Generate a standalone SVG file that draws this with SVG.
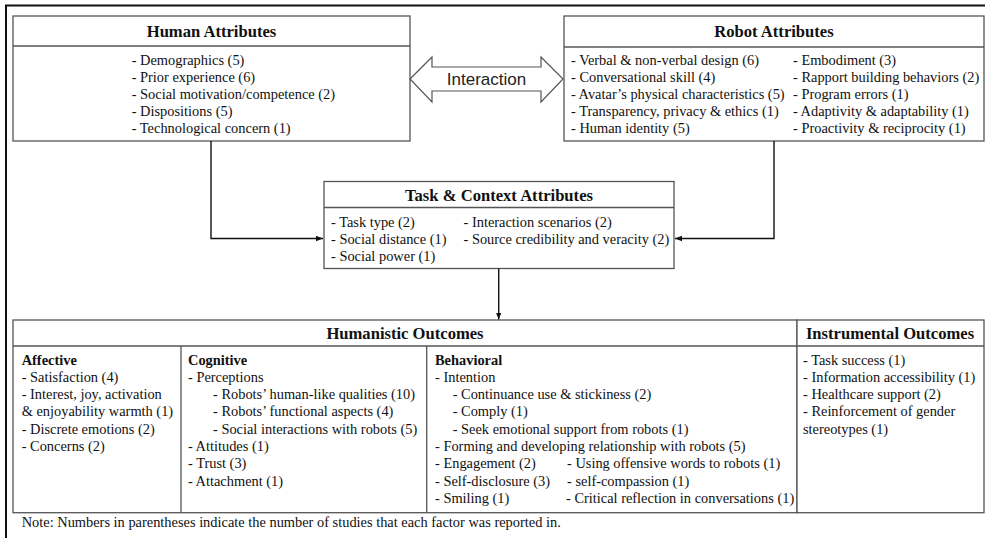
<svg xmlns="http://www.w3.org/2000/svg" width="985" height="538" viewBox="0 0 985 538">
<style>
.box{fill:#fff;stroke:#555;stroke-width:1.3}
.div{stroke:#555;stroke-width:1.3;fill:none}
.t{font-family:"Liberation Serif","Times New Roman",serif;font-size:14.4px;fill:#111}
.h{font-family:"Liberation Serif","Times New Roman",serif;font-size:16.6px;font-weight:bold;fill:#111;text-anchor:middle}
.b{font-weight:bold}
.con{stroke:#111;stroke-width:1.4;fill:none}
</style>
<defs>
<marker id="ah" viewBox="0 0 10 10" refX="10" refY="5" markerWidth="7" markerHeight="7" markerUnits="userSpaceOnUse" orient="auto">
<path d="M0,1 L10,5 L0,9 Z" fill="#111"/>
</marker>
</defs>
<rect width="985" height="538" fill="#fff"/>
<path d="M6,545 V5.5 H995" fill="none" stroke="#111" stroke-width="2"/>

<g id="human">
<rect class="box" x="13" y="16" width="397" height="125"/>
<line class="div" x1="13" y1="46" x2="410" y2="46"/>
<text class="h" x="211.5" y="37">Human Attributes</text>
<text class="t" x="131.7" y="64.5">- Demographics (5)</text>
<text class="t" x="131.7" y="81.5">- Prior experience (6)</text>
<text class="t" x="131.7" y="98.5">- Social motivation/competence (2)</text>
<text class="t" x="131.7" y="115.5">- Dispositions (5)</text>
<text class="t" x="131.7" y="132.5">- Technological concern (1)</text>
</g>

<g id="interaction">
<polygon points="410,79 432,57 432,67 541,67 541,57 563,79 541,102 541,91 432,91 432,102" fill="#fff" stroke="#555" stroke-width="1.2"/>
<text x="486.5" y="85" text-anchor="middle" font-family="'Liberation Sans',Arial,sans-serif" font-size="17" fill="#222">Interaction</text>
</g>

<g id="robot">
<rect class="box" x="564" y="16" width="420" height="125"/>
<line class="div" x1="564" y1="47" x2="984" y2="47"/>
<text class="h" x="774" y="37">Robot Attributes</text>
<text class="t" x="571" y="64.5">- Verbal &amp; non-verbal design (6)</text>
<text class="t" x="571" y="81.5">- Conversational skill (4)</text>
<text class="t" x="571" y="98.5">- Avatar’s physical characteristics (5)</text>
<text class="t" x="571" y="115.5">- Transparency, privacy &amp; ethics (1)</text>
<text class="t" x="571" y="132.5">- Human identity (5)</text>
<text class="t" x="793" y="64.5">- Embodiment (3)</text>
<text class="t" x="793" y="81.5">- Rapport building behaviors (2)</text>
<text class="t" x="793" y="98.5">- Program errors (1)</text>
<text class="t" x="793" y="115.5">- Adaptivity &amp; adaptability (1)</text>
<text class="t" x="793" y="132.5">- Proactivity &amp; reciprocity (1)</text>
</g>

<g id="task">
<rect class="box" x="324" y="181.5" width="350" height="87"/>
<line class="div" x1="324" y1="207.5" x2="674" y2="207.5"/>
<text class="h" x="499" y="201">Task &amp; Context Attributes</text>
<text class="t" x="331" y="227">- Task type (2)</text>
<text class="t" x="331" y="244">- Social distance (1)</text>
<text class="t" x="331" y="261">- Social power (1)</text>
<text class="t" x="463.5" y="227">- Interaction scenarios (2)</text>
<text class="t" x="463.5" y="244">- Source credibility and veracity (2)</text>
</g>

<g id="humanistic">
<rect class="box" x="13" y="320" width="784" height="192.7"/>
<line class="div" x1="13" y1="346" x2="797" y2="346"/>
<line class="div" x1="181" y1="346" x2="181" y2="512.7"/>
<line class="div" x1="426.7" y1="346" x2="426.7" y2="512.7"/>
<text class="h" x="405" y="339">Humanistic Outcomes</text>
<text class="t b" x="21.7" y="364.5">Affective</text>
<text class="t" x="21.7" y="381.8">- Satisfaction (4)</text>
<text class="t" x="21.7" y="399.1">- Interest, joy, activation</text>
<text class="t" x="21.7" y="416.4">&amp; enjoyability warmth (1)</text>
<text class="t" x="21.7" y="433.7">- Discrete emotions (2)</text>
<text class="t" x="21.7" y="451">- Concerns (2)</text>
<text class="t b" x="188" y="364.5">Cognitive</text>
<text class="t" x="188" y="381.8">- Perceptions</text>
<text class="t" x="213" y="399.1">- Robots’ human-like qualities (10)</text>
<text class="t" x="213" y="416.4">- Robots’ functional aspects (4)</text>
<text class="t" x="213" y="433.7">- Social interactions with robots (5)</text>
<text class="t" x="188" y="451">- Attitudes (1)</text>
<text class="t" x="188" y="468.3">- Trust (3)</text>
<text class="t" x="188" y="485.6">- Attachment (1)</text>
<text class="t b" x="435" y="364.5">Behavioral</text>
<text class="t" x="435" y="381.8">- Intention</text>
<text class="t" x="452.7" y="399.1">- Continuance use &amp; stickiness (2)</text>
<text class="t" x="452.7" y="416.4">- Comply (1)</text>
<text class="t" x="452.7" y="433.7">- Seek emotional support from robots (1)</text>
<text class="t" x="435" y="451">- Forming and developing relationship with robots (5)</text>
<text class="t" x="435" y="468.3">- Engagement (2)</text>
<text class="t" x="435" y="485.6">- Self-disclosure (3)</text>
<text class="t" x="435" y="502.9">- Smiling (1)</text>
<text class="t" x="567" y="468.3">- Using offensive words to robots (1)</text>
<text class="t" x="567" y="485.6">- self-compassion (1)</text>
<text class="t" x="566" y="502.9">- Critical reflection in conversations (1)</text>
</g>

<g id="instrumental">
<rect class="box" x="797" y="320" width="187" height="192.7"/>
<line class="div" x1="797" y1="346" x2="984" y2="346"/>
<text class="h" x="890" y="339">Instrumental Outcomes</text>
<text class="t" x="803" y="364.5">- Task success (1)</text>
<text class="t" x="803" y="381.8">- Information accessibility (1)</text>
<text class="t" x="803" y="399.1">- Healthcare support (2)</text>
<text class="t" x="803" y="416.4">- Reinforcement of gender</text>
<text class="t" x="803" y="433.7">stereotypes (1)</text>
</g>

<g id="connectors">
<path class="con" d="M211,141 V238.5 H323" marker-end="url(#ah)"/>
<path class="con" d="M774,141 V238.5 H675" marker-end="url(#ah)"/>
<path class="con" d="M498.7,268.5 V319.5" marker-end="url(#ah)"/>
</g>

<text class="t" x="21.7" y="527">Note: Numbers in parentheses indicate the number of studies that each factor was reported in.</text>
</svg>
